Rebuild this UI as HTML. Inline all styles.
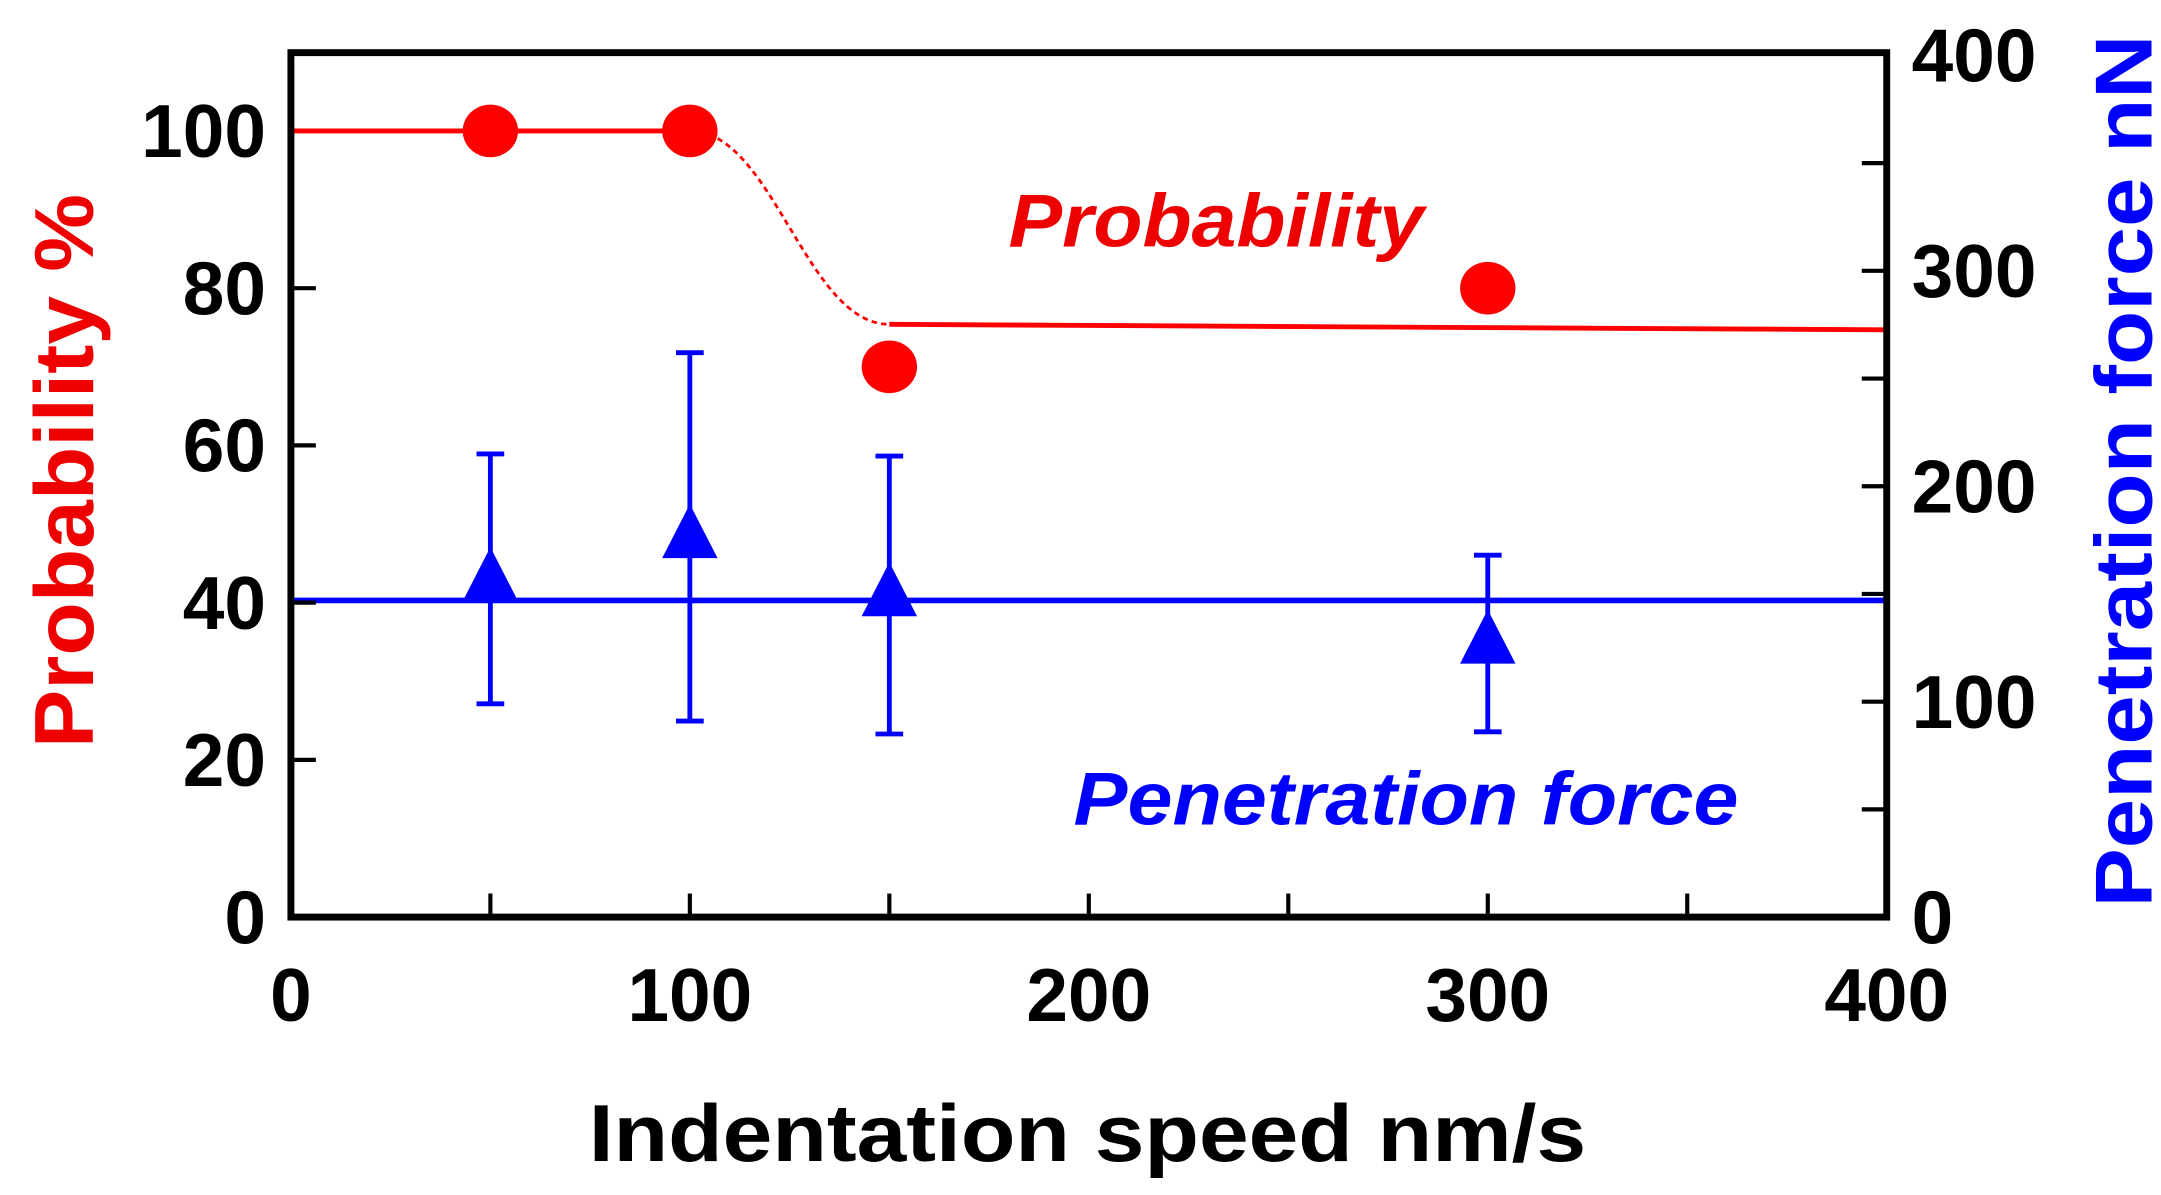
<!DOCTYPE html>
<html><head><meta charset="utf-8"><style>
html,body{margin:0;padding:0;background:#fff;}
svg{display:block;font-family:"Liberation Sans",sans-serif;font-weight:bold;}
</style></head><body>
<svg id="chart" width="2161" height="1195" viewBox="0 0 1560 862.6" preserveAspectRatio="none" xmlns="http://www.w3.org/2000/svg">
<g id="marks"></g>
<rect x="210" y="38" width="1152" height="624" fill="none" stroke="#000" stroke-width="5"/>
<g id="axes"></g>
<text x="785" y="838" font-size="58" text-anchor="middle" fill="#000" textLength="720" lengthAdjust="spacingAndGlyphs">Indentation speed  nm/s</text>
<text transform="translate(67,340) rotate(-90)" font-size="60" text-anchor="middle" fill="#e00" textLength="400" lengthAdjust="spacingAndGlyphs">Probability  %</text>
<text transform="translate(1553,340) rotate(-90)" font-size="58" text-anchor="middle" fill="#00f" textLength="630" lengthAdjust="spacingAndGlyphs">Penetration force  nN</text>
<text x="878" y="178" font-size="54" font-style="italic" text-anchor="middle" fill="#e00" textLength="300" lengthAdjust="spacingAndGlyphs">Probability</text>
<text x="1015" y="595" font-size="54" font-style="italic" text-anchor="middle" fill="#00f" textLength="480" lengthAdjust="spacingAndGlyphs">Penetration force</text>
</svg>
<script>
const xCats=[50,100,150,300];
const probVals=[100,100,70,80];
const forceVals=[155,175,148,126];
const forceErrHi=[215,262,214,168];
const forceErrLo=[99,91,85,86];
const xTicks=[0,100,200,300,400];
const leftTicks=[0,20,40,60,80,100];
const rightTicks=[0,100,200,300,400];
const probFitLevels=[100,100,75.4,74.7];
const probFitX=[0,100,150,400];
const forceMean=[147];

const X=v=>210+v*(1152/400);
const YL=v=>662-v*(567.5/100);
const YR=v=>662-v*(1.555);
const NS="http://www.w3.org/2000/svg";
const marks=document.getElementById('marks'), axes=document.getElementById('axes');
function mk(t,a,p){const e=document.createElementNS(NS,t);for(const k in a)e.setAttribute(k,a[k]);p.appendChild(e);return e;}

let l=mk('line',{x1:X(probFitX[0]),y1:YL(probFitLevels[0]),x2:X(probFitX[1]),y2:YL(probFitLevels[1]),stroke:'#f00','stroke-width':3.5},marks);


let x1=X(probFitX[1]),y1=YL(probFitLevels[1]),x2=X(probFitX[2]),y2=YL(probFitLevels[2]);
let c=mk('path',{d:`M${x1},${y1} C${x1+60},${y1} ${x2-60},${y2} ${x2},${y2}`,fill:'none',stroke:'#f00','stroke-width':2,'stroke-dasharray':'4 3'},marks);


l=mk('line',{x1:x2,y1:y2,x2:X(probFitX[3]),y2:YL(probFitLevels[3]),stroke:'#f00','stroke-width':3.5},marks);


l=mk('line',{x1:X(0),y1:YR(forceMean[0]),x2:X(400),y2:YR(forceMean[0]),stroke:'#00f','stroke-width':4},marks);



xCats.forEach((xv,i)=>{
  const cx=X(xv);
  const g=mk('g',{},marks);
  
  
  mk('line',{x1:cx,y1:YR(forceErrHi[i]),x2:cx,y2:YR(forceErrLo[i]),stroke:'#00f','stroke-width':3.5},g);
  mk('line',{x1:cx-10,y1:YR(forceErrHi[i]),x2:cx+10,y2:YR(forceErrHi[i]),stroke:'#00f','stroke-width':3.5},g);
  mk('line',{x1:cx-10,y1:YR(forceErrLo[i]),x2:cx+10,y2:YR(forceErrLo[i]),stroke:'#00f','stroke-width':3.5},g);
  const cy=YR(forceVals[i]);
  const t=mk('polygon',{points:`${cx},${cy-26} ${cx-20},${cy+13} ${cx+20},${cy+13}`,fill:'#00f'},marks);
  
  
  const d=mk('ellipse',{cx:cx,cy:YL(probVals[i]),rx:20,ry:19,fill:'#f00'},marks);
  
  
});

for(let v=50;v<400;v+=50){const t=mk('line',{x1:X(v),y1:662,x2:X(v),y2:645,stroke:'#000','stroke-width':3},axes);

}
xTicks.forEach(v=>{const t=mk('text',{x:X(v),y:737,'font-size':54,'text-anchor':'middle',fill:'#000'},axes);t.textContent=v;

});
leftTicks.forEach(v=>{if(v===100)return;const t=mk('line',{x1:210,y1:YL(v),x2:228,y2:YL(v),stroke:'#000','stroke-width':3},axes);

});
leftTicks.forEach(v=>{const s=mk('text',{x:192,y:YL(v)+19,'font-size':54,'text-anchor':'end',fill:'#000'},axes);s.textContent=v;

});
for(let v=50;v<400;v+=50){const t=mk('line',{x1:1362,y1:YR(v),x2:1344,y2:YR(v),stroke:'#000','stroke-width':3},axes);

}
rightTicks.forEach(v=>{const s=mk('text',{x:1380,y:YR(v)+19,'font-size':54,'text-anchor':'start',fill:'#000'},axes);s.textContent=v;

});
</script>
</body></html>
